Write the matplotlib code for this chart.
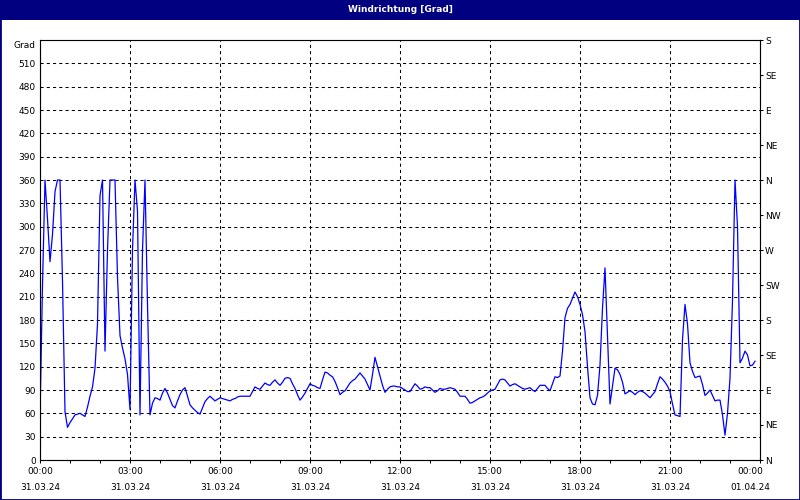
import matplotlib.pyplot as plt
import matplotlib.transforms as mtransforms
import numpy as np
from matplotlib.patches import Rectangle
from matplotlib.ticker import MultipleLocator

# Windrichtung in Grad, alle 5 Minuten, 31.03.24 00:00 bis 23:50 (eine Zeile = eine Stunde)
richtung = [
    55, 225, 360, 310, 255, 290, 345, 360, 360, 230, 62, 42,
    48, 53, 58, 59, 60, 58, 56, 68, 82, 94, 118, 175,
    340, 360, 140, 270, 360, 360, 360, 235, 160, 144, 130, 110,
    65, 270, 360, 320, 58, 270, 360, 200, 58, 73, 80, 79,
    77, 86, 92, 86, 78, 70, 67, 76, 84, 90, 93, 82,
    71, 67, 64, 61, 59, 67, 75, 79, 82, 79, 76, 78,
    80, 79, 78, 77, 76, 78, 79, 81, 82, 82, 82, 82,
    82, 88, 94, 92, 91, 95, 99, 97, 96, 100, 103, 99,
    96, 100, 105, 106, 105, 98, 92, 84, 77, 81, 86, 92,
    98, 96, 95, 93, 92, 103, 113, 112, 109, 107, 101, 93,
    84, 87, 89, 94, 99, 102, 104, 108, 112, 108, 104, 97,
    90, 110, 132, 120, 108, 96, 87, 91, 94, 95, 95, 94,
    94, 92, 90, 88, 88, 93, 98, 95, 91, 92, 94, 93,
    93, 90, 87, 89, 92, 91, 91, 92, 93, 92, 91, 87,
    82, 82, 82, 78, 73, 74, 76, 78, 80, 81, 83, 86,
    89, 90, 91, 97, 103, 104, 103, 99, 95, 97, 98, 96,
    94, 92, 91, 92, 93, 90, 88, 92, 96, 96, 96, 92,
    89, 98, 107, 106, 108, 140, 183, 195, 200, 208, 216, 210,
    200, 187, 165, 120, 80, 72, 71, 83, 122, 195, 247, 160,
    72, 95, 118, 116, 110, 100, 85, 87, 89, 87, 84, 87,
    89, 88, 86, 83, 80, 84, 88, 98, 107, 104, 100, 95,
    88, 72, 58, 57, 56, 155, 200, 175, 125, 114, 106, 107,
    108, 97, 83, 86, 90, 83, 76, 77, 77, 58, 32, 60,
    105, 205, 360, 300, 125, 131, 140, 135, 121, 122, 127,
]
zeit = np.arange(len(richtung)) * 5 / 60  # Stunden ab 00:00

grad_ticks = list(range(0, 511, 30))
himmel_ticks = list(range(0, 541, 45))
himmel_labels = ["N", "NE", "E", "SE", "S", "SW", "W", "NW", "N", "NE", "E", "SE", "S"]
zeit_ticks = list(range(0, 25, 3))
zeit_labels = ["00:00\n31.03.24", "03:00\n31.03.24", "06:00\n31.03.24",
               "09:00\n31.03.24", "12:00\n31.03.24", "15:00\n31.03.24",
               "18:00\n31.03.24", "21:00\n31.03.24", "00:00\n01.04.24"]

plt.rcParams['font.family'] = 'DejaVu Sans'
fs = 6.5
navy = '#000080'

fig = plt.figure(figsize=(8, 5), dpi=100)
ax = fig.add_axes([0.05, 0.08, 0.9, 0.84])
ax.plot(zeit, richtung, color='#0000ff', lw=0.9)

ax.set_xlim(0, 24)
ax.set_ylim(0, 540)
ax.set_yticks(grad_ticks)
ax.set_xticks(zeit_ticks, zeit_labels)
ax.xaxis.set_minor_locator(MultipleLocator(1))
ax.tick_params(axis='y', length=0, pad=3, labelsize=fs)
ax.tick_params(axis='x', which='both', length=2.2, width=0.75, pad=3, labelsize=fs)
for lab in ax.get_xticklabels():
    lab.set_linespacing(1.9)
# letzte Beschriftung etwas nach links
last = ax.get_xticklabels()[-1]
last.set_transform(last.get_transform() + mtransforms.ScaledTranslation(-0.1, 0, fig.dpi_scale_trans))

ax.grid(True, color='black', linestyle=(0, (3, 3)), lw=0.75)
for s in ax.spines.values():
    s.set_linewidth(0.75)

ax.annotate("Grad", xy=(0, 1), xycoords='axes fraction', xytext=(-3, -3.6),
            textcoords='offset points', ha='right', va='center', fontsize=fs)

ax2 = ax.twinx()
ax2.set_ylim(0, 540)
ax2.set_yticks(himmel_ticks, himmel_labels)
ax2.tick_params(length=2.2, width=0.75, pad=1.5, labelsize=fs)

# Titelleiste und Rahmen
fig.add_artist(Rectangle((0, 0.96), 1, 0.04, transform=fig.transFigure,
                         facecolor=navy, edgecolor='none'))
fig.add_artist(Rectangle((0, 0), 1, 1, transform=fig.transFigure,
                         fill=False, edgecolor=navy, lw=2))
fig.text(0.5, 0.98, "Windrichtung [Grad]", color='white', fontweight='bold',
         fontsize=fs, ha='center', va='center')

fig.savefig('out.png', dpi=100)
